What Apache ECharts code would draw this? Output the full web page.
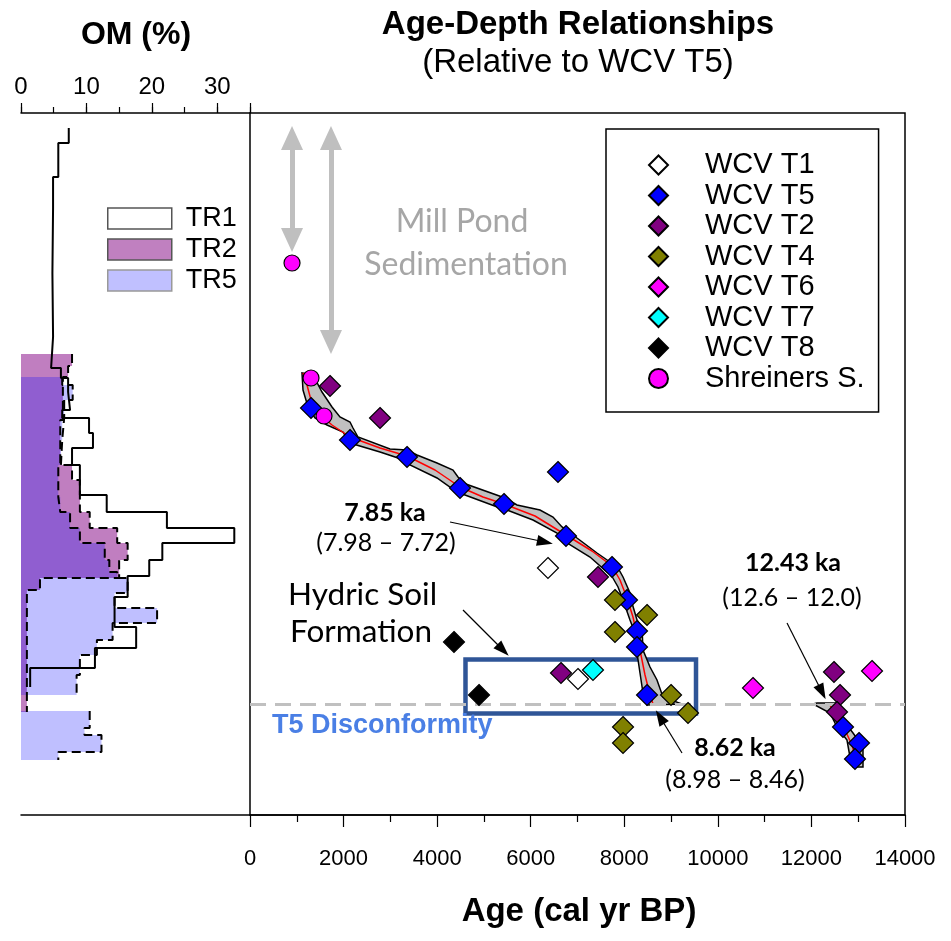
<!DOCTYPE html>
<html>
<head>
<meta charset="utf-8">
<script src="https://cdn.jsdelivr.net/npm/echarts@6/dist/echarts.min.js"></script>
<style>
  html, body { margin: 0; padding: 0; background: #fff; }
  #chart { width: 951px; height: 941px; }
</style>
</head>
<body>
<div id="chart"></div>
<script>
// depth is a relative scale (0 = top of panel, 351 = bottom), shared by both panels

// organic matter step profiles: bin boundaries (depth) and OM % per bin
const tr1Depth = [7.5, 15, 32, 47.5, 80, 112, 127.5, 132.5, 139.5, 148.5, 152.5, 160, 167.5, 176, 191, 199.5, 207.5, 215, 223.5, 231.5, 242, 257, 267.5, 277.5, 287]
const tr1Om = [7.3, 5.7, 4.9, 4.8, 4.9, 4.6, 6.1, 7.2, 7.5, 6.3, 10.4, 11.0, 7.8, 9.0, 13.1, 22.3, 32.6, 21.6, 19.6, 16.3, 14.3, 17.6, 11.3, 1.4]
const tr2Depth = [120.5, 126.5, 132, 153.5, 176, 183.5, 199.5, 207.5, 215, 223.5, 232.5, 238.5, 299.5]
const tr2Om = [7.8, 7.2, 6.4, 6.0, 7.8, 9.0, 10.5, 14.7, 16.3, 15.0, 2.9, 0.9]
const tr5Depth = [132, 136, 143.5, 152.5, 163.5, 176, 192, 199.5, 207.5, 215, 223.5, 229.5, 232.5, 240, 247.5, 255, 263.5, 271, 281, 291, 299, 307.5, 311, 319.5, 323.5]
const tr5Om = [6.3, 7.9, 6.6, 6.3, 6.1, 5.7, 6.0, 7.5, 9.0, 12.8, 13.5, 14.7, 16.3, 14.3, 20.8, 14.0, 11.6, 9.0, 8.5, null, 10.5, 9.7, 12.3, 5.7]

// dated samples (cal yr BP) and depth
const t1Age = [6369, 7010]
const t1Depth = [227.5, 283]
const t5Age = [1304, 2137, 3356, 4489, 5429, 6754, 7737, 8058, 8272, 8272, 8486, 12675, 13017, 12931, 6583]
const t5Depth = [147.5, 163.5, 172, 187.5, 195.5, 211.5, 227, 243.5, 259, 267, 291, 307, 315, 323, 179.5]
const t2Age = [1710, 2779, 7438, 6647, 12482, 12611, 12547]
const t2Depth = [136.5, 152.5, 232, 280, 279.5, 291, 299.5]
const t4Age = [7801, 8486, 7801, 8999, 9362, 7973, 7973]
const t4Depth = [243.5, 251, 259.5, 291, 300, 307, 315]
const t6Age = [10751, 13295]
const t6Depth = [287.5, 279]
const t7Age = [7331]
const t7Depth = [278.5]
const t8Age = [4360, 4895]
const t8Depth = [264.5, 291]
const shrAge = [898, 1304, 1582]
const shrDepth = [75, 132.5, 151.5]

// age model (median) and its envelope, two segments
const model1Age = [1133, 1218, 1304, 1453, 1753, 2137, 2779, 3356, 3954, 4489, 4980, 5429, 6092, 6754, 7310, 7737, 7908, 8058, 8186, 8272, 8357, 8443, 8550, 8614]
const model1Depth = [130, 136, 143.5, 150, 156, 162, 167.5, 171.5, 178.5, 187, 192, 195.5, 201.5, 211, 219, 226.5, 233.5, 242.5, 252, 261, 271, 281, 291, 295.5]
const model2Age = [12397, 12568, 12718, 12867, 12953]
const model2Depth = [296, 302.5, 308.5, 316, 323.5]
const env1OldAge = [1347, 1539, 1753, 1923, 2137, 2202, 2308, 2992, 3356, 3569, 3997, 4339, 4446, 4553, 5450, 5707, 6198, 6476, 6669, 6840, 6989, 7417, 7695, 7866, 7973, 8122, 8165, 8272, 8379, 8400, 8550, 8699, 8827, 9234]
const env1OldDepth = [131, 139.5, 147, 152, 154.5, 157.5, 162, 168, 168.5, 171, 175, 178.5, 182, 185, 192.5, 196, 198.5, 202, 207, 209.5, 212.5, 220, 224.5, 227.5, 232, 240, 245, 253.5, 257.5, 268.5, 277, 283.5, 292, 295.5]
const env1YoungAge = [1111, 1133, 1240, 1389, 1646, 1988, 2137, 2779, 3356, 3420, 3997, 4424, 5344, 5493, 6049, 6562, 6690, 6776, 7267, 7631, 7695, 7866, 7973, 8122, 8229, 8272, 8336, 8400, 8486]
const env1YoungDepth = [130, 138.5, 147, 152.5, 156, 159.5, 165, 169.5, 174, 176, 182.5, 189.5, 197.5, 198.5, 203.5, 210, 213.5, 215, 222, 229.5, 230, 237, 243.5, 253.5, 260, 270, 280, 290, 296]
const env2OldAge = [12119, 12547, 12675, 12889, 13102, 13102]
const env2OldDepth = [295, 295, 303.5, 310, 317, 327]
const env2YoungAge = [12034, 12397, 12547, 12760, 12824, 12889]
const env2YoungDepth = [295.5, 300, 307, 313.5, 322, 327]

// annotations (data units)
const disconformityDepth = 295.5
const hydricBox = [[4606, 273.25], [9533, 300.25]]
const millPondArrows = [[[898, 12.5], [898, 63.5]], [[1731, 12.5], [1731, 114.5]]]
const noteArrows = [
  [[4275, 204.5], [6305, 214.5]],
  [[4553, 248.5], [5408, 268.5]],
  [[11478, 255], [12226, 289.5]],
  [[9234, 320], [8763, 302]]
]

const zip = (a, b) => a.map((v, i) => [v, b[i]])

function stepLine(bounds, vals) {
  const pts = []
  vals.forEach((v, i) => {
    if (v == null) { pts.push('-'); return }
    pts.push([v, bounds[i]], [v, bounds[i + 1]])
  })
  return pts
}

function histPolys(bounds, vals, api) {
  const polys = []
  let cur = null
  vals.forEach((v, i) => {
    if (v == null) {
      if (cur) { cur.push(api.coord([0, bounds[i]])); polys.push(cur); cur = null }
      return
    }
    if (!cur) cur = [api.coord([0, bounds[i]])]
    cur.push(api.coord([v, bounds[i]]), api.coord([v, bounds[i + 1]]))
  })
  if (cur) { cur.push(api.coord([0, bounds[vals.length]])); polys.push(cur) }
  return polys
}

function histFill(name, bounds, vals, fill) {
  return {
    name: name,
    type: 'custom',
    xAxisIndex: 0,
    yAxisIndex: 0,
    itemStyle: { color: fill },
    data: [[0, 0]],
    renderItem: function (params, api) {
      return {
        type: 'group',
        children: histPolys(bounds, vals, api).map(p => ({
          type: 'polygon', shape: { points: p }, style: { fill: fill }
        }))
      }
    }
  }
}

function histLine(name, bounds, vals, dashed) {
  return {
    name: name,
    type: 'line',
    xAxisIndex: 0,
    yAxisIndex: 0,
    data: stepLine(bounds, vals),
    showSymbol: false,
    connectNulls: false,
    lineStyle: { color: '#000', width: 2, type: dashed ? [9, 5] : 'solid' },
    z: 3
  }
}

const envSegs = [
  { oa: env1OldAge, od: env1OldDepth, ya: env1YoungAge, yd: env1YoungDepth },
  { oa: env2OldAge, od: env2OldDepth, ya: env2YoungAge, yd: env2YoungDepth }
]

function dots(name, ages, depths, color, symbol) {
  return {
    name: name,
    type: 'scatter',
    xAxisIndex: 2,
    yAxisIndex: 1,
    symbol: symbol || 'diamond',
    symbolSize: symbol === 'circle' ? 16 : 21,
    data: zip(ages, depths),
    itemStyle: { color: color, borderColor: '#000', borderWidth: 1.2, opacity: 1 },
    z: 5
  }
}

const calibri = 'Lato, "Open Sans", sans-serif'
const arial = '"Liberation Sans", Arial, sans-serif'
function txt(x, y, s, size, opts) {
  return {
    type: 'text',
    x: x,
    y: y,
    z: 100,
    style: Object.assign({
      text: s,
      fontSize: size,
      fontFamily: arial,
      fill: '#000',
      align: 'center',
      verticalAlign: 'middle'
    }, opts || {})
  }
}

const chart = echarts.init(document.getElementById('chart'))
chart.setOption({
  animation: false,
  backgroundColor: '#fff',
  textStyle: { fontFamily: arial },
  grid: [
    { left: 21, top: 113, width: 229, height: 702 },
    { left: 250, top: 113, width: 655, height: 702, show: true, borderColor: '#000', borderWidth: 1.5, backgroundColor: 'transparent' }
  ],
  xAxis: [
    {
      // OM axis, labelled ticks every 10
      gridIndex: 0, type: 'value', position: 'top', min: 0, max: 35, interval: 10,
      axisLine: { show: true, onZero: false, lineStyle: { color: '#000', width: 1.5 } },
      axisTick: { show: true, length: 10, lineStyle: { color: '#000', width: 1.2 } },
      axisLabel: { fontSize: 24, color: '#000', margin: 14, formatter: v => (v % 10 === 0 && v <= 30 ? String(v) : '') },
      splitLine: { show: false }
    },
    {
      gridIndex: 0, type: 'value', position: 'bottom', min: 0, max: 35,
      axisLine: { show: true, onZero: false, lineStyle: { color: '#000', width: 1.5 } },
      axisTick: { show: false }, axisLabel: { show: false }, splitLine: { show: false }
    },
    {
      gridIndex: 1, type: 'value', position: 'bottom', min: 0, max: 14000, interval: 2000,
      axisLine: { show: true, onZero: false, lineStyle: { color: '#000', width: 1.5 } },
      axisTick: { show: true, inside: false, length: 12, lineStyle: { color: '#000', width: 1.2 } },
      minorTick: { show: true, splitNumber: 2, length: 7, lineStyle: { color: '#000', width: 1.2 } },
      axisLabel: { fontSize: 22, color: '#000', margin: 33, formatter: v => String(v), showMinLabel: true, showMaxLabel: true, hideOverlap: false },
      splitLine: { show: false }
    },
    {
      // OM axis, short ticks every 5
      gridIndex: 0, type: 'value', position: 'top', min: 0, max: 35, interval: 5,
      axisLine: { show: false, onZero: false },
      axisTick: { show: true, length: 6, lineStyle: { color: '#000', width: 1.2 } },
      axisLabel: { show: false },
      splitLine: { show: false }
    }
  ],
  yAxis: [
    { gridIndex: 0, type: 'value', min: 0, max: 351, inverse: true, show: false },
    { gridIndex: 1, type: 'value', min: 0, max: 351, inverse: true, show: false }
  ],
  legend: [
    {
      data: [
        { name: 'TR1', itemStyle: { color: '#fff', borderColor: '#555', borderWidth: 1.5 } },
        { name: 'TR2', itemStyle: { color: '#c080c0', borderColor: '#555', borderWidth: 1.5 } },
        { name: 'TR5', itemStyle: { color: '#c0c0ff', borderColor: '#999', borderWidth: 1.5 } }
      ],
      icon: 'rect',
      orient: 'vertical',
      left: 107, top: 205,
      itemWidth: 64, itemHeight: 21, itemGap: 4,
      padding: 0,
      selectedMode: false,
      textStyle: { fontSize: 27, color: '#000', fontFamily: arial, padding: [0, 0, 0, 9] }
    },
    {
      data: ['WCV T1', 'WCV T5', 'WCV T2', 'WCV T4', 'WCV T6', 'WCV T7', 'WCV T8', 'Shreiners S.'],
      orient: 'vertical',
      left: 606, top: 129,
      itemWidth: 19, itemHeight: 19, itemGap: 1.5,
      padding: [21.5, 14, 19, 42],
      borderColor: '#000', borderWidth: 1.5,
      backgroundColor: '#fff',
      selectedMode: false,
      textStyle: { fontSize: 29, color: '#000', fontFamily: arial, padding: [0, 0, 0, 32] }
    }
  ],
  series: [
    histFill('TR1', tr1Depth, tr1Om, '#ffffff'),
    histFill('TR2', tr2Depth, tr2Om, 'rgba(150,40,150,0.6)'),
    histFill('TR5', tr5Depth, tr5Om, 'rgba(0,0,255,0.25)'),
    histLine('TR1 line', tr1Depth, tr1Om, false),
    histLine('TR2 line', tr2Depth, tr2Om, true),
    histLine('TR5 line', tr5Depth, tr5Om, true),
    {
      name: 'disconformity',
      type: 'line', xAxisIndex: 2, yAxisIndex: 1, data: [],
      markLine: {
        silent: true, animation: false, symbol: ['none', 'none'], label: { show: false },
        lineStyle: { color: '#c0c0c0', width: 3, type: [16, 9] },
        data: [{ yAxis: disconformityDepth }]
      },
      z: 1
    },
    {
      name: 'envelope',
      type: 'custom', xAxisIndex: 2, yAxisIndex: 1,
      data: [[0, 0], [1, 0]],
      renderItem: function (params, api) {
        const s = envSegs[params.dataIndex]
        const pts = s.oa.map((a, i) => api.coord([a, s.od[i]]))
        for (let i = s.ya.length - 1; i >= 0; i--) pts.push(api.coord([s.ya[i], s.yd[i]]))
        return { type: 'polygon', shape: { points: pts }, style: { fill: '#c0c0c0', stroke: '#000', lineWidth: 1.5 } }
      },
      z: 2
    },
    {
      name: 'model',
      type: 'line', xAxisIndex: 2, yAxisIndex: 1,
      data: zip(model1Age, model1Depth).concat(['-'], zip(model2Age, model2Depth)),
      showSymbol: false, connectNulls: false,
      lineStyle: { color: '#ff0000', width: 1.5 },
      z: 3
    },
    {
      name: 'mill pond',
      type: 'line', xAxisIndex: 2, yAxisIndex: 1, data: [],
      markLine: {
        silent: true, animation: false, symbol: ['triangle', 'triangle'], symbolSize: [22, 24],
        label: { show: false },
        lineStyle: { color: '#bfbfbf', width: 5, type: 'solid' },
        data: millPondArrows.map(p => [{ coord: p[0] }, { coord: p[1] }])
      },
      z: 3
    },
    {
      name: 'notes',
      type: 'line', xAxisIndex: 2, yAxisIndex: 1, data: [],
      markLine: {
        silent: true, animation: false, symbol: ['none', 'triangle'], symbolSize: [11, 16],
        label: { show: false },
        lineStyle: { color: '#000', width: 1.2, type: 'solid' },
        data: noteArrows.map(p => [{ coord: p[0] }, { coord: p[1] }])
      },
      markArea: {
        silent: true, animation: false,
        itemStyle: { color: 'rgba(0,0,0,0)', borderColor: '#2f5597', borderWidth: 4.5 },
        data: [[{ coord: hydricBox[0] }, { coord: hydricBox[1] }]]
      },
      z: 6
    },
    dots('WCV T1', t1Age, t1Depth, '#ffffff'),
    dots('WCV T5', t5Age, t5Depth, '#0000ff'),
    dots('WCV T2', t2Age, t2Depth, '#800080'),
    dots('WCV T4', t4Age, t4Depth, '#808000'),
    dots('WCV T6', t6Age, t6Depth, '#ff00ff'),
    dots('WCV T7', t7Age, t7Depth, '#00ffff'),
    dots('WCV T8', t8Age, t8Depth, '#000000'),
    dots('Shreiners S.', shrAge, shrDepth, '#ff00ff', 'circle')
  ],
  graphic: [
    txt(136, 35, 'OM (%)', 32, { fontWeight: 'bold' }),
    txt(578, 25, 'Age-Depth Relationships', 33, { fontWeight: 'bold' }),
    txt(578, 63, '(Relative to WCV T5)', 33),
    txt(579, 912, 'Age (cal yr BP)', 33, { fontWeight: 'bold' }),
    txt(462, 222, 'Mill Pond', 32, { fontFamily: calibri, fill: '#a6a6a6' }),
    txt(466, 265, 'Sedimentation', 32, { fontFamily: calibri, fill: '#a6a6a6' }),
    txt(385, 513, '7.85 ka', 25, { fontFamily: calibri, fontWeight: 'bold' }),
    txt(386, 543, '(7.98 – 7.72)', 25, { fontFamily: calibri }),
    txt(793, 563, '12.43 ka', 25, { fontFamily: calibri, fontWeight: 'bold' }),
    txt(792, 598, '(12.6 – 12.0)', 25, { fontFamily: calibri }),
    txt(735, 748, '8.62 ka', 25, { fontFamily: calibri, fontWeight: 'bold' }),
    txt(735, 780, '(8.98 – 8.46)', 25, { fontFamily: calibri }),
    txt(288, 595, 'Hydric Soil', 31.5, { fontFamily: calibri, align: 'left' }),
    txt(290, 632, 'Formation', 31.5, { fontFamily: calibri, align: 'left' }),
    txt(272, 726, 'T5 Disconformity', 27, { fontWeight: 'bold', fill: '#4a7fe5', align: 'left' })
  ]
})
</script>
</body>
</html>
